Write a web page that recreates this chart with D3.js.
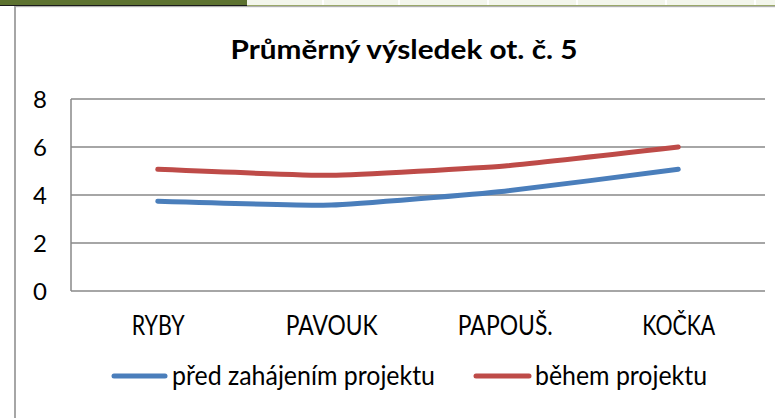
<!DOCTYPE html>
<html>
<head>
<meta charset="utf-8">
<script src="https://cdn.jsdelivr.net/npm/d3@7/dist/d3.min.js"></script>
<style>
  html, body { margin: 0; padding: 0; background: #fff; }
  svg { display: block; }
  text { font-family: Lato, "Open Sans", "Liberation Sans", sans-serif; fill: #000; }
</style>
</head>
<body>
<svg id="chart" width="775" height="418"></svg>
<script>
// Chart data
const categories = ["RYBY", "PAVOUK", "PAPOUŠ.", "KOČKA"];
const beforeProject = [3.74, 3.58, 4.16, 5.07];
const duringProject = [5.07, 4.82, 5.21, 6.0];
const seriesNames = ["před zahájením projektu", "během projektu"];
const yTicks = [0, 2, 4, 6, 8];
const chartTitle = "Průměrný výsledek ot. č. 5";

const colors = ["#4a7ebb", "#be4b48"];

const svg = d3.select("#chart");

// Worksheet strip along the top edge
svg.append("rect").attr("x", 0).attr("y", 0).attr("width", 775).attr("height", 5).attr("fill", "#f3f6ec");
[322, 398, 487, 576, 665, 754].forEach(x => {
  svg.append("rect").attr("x", x).attr("y", 0).attr("width", 2).attr("height", 5).attr("fill", "#ffffff");
});
svg.append("rect").attr("x", 0).attr("y", 0).attr("width", 247).attr("height", 5).attr("fill", "#5d7230");
svg.append("rect").attr("x", 0).attr("y", 5).attr("width", 247).attr("height", 1).attr("fill", "#1a1a1a");
svg.append("rect").attr("x", 247).attr("y", 5).attr("width", 528).attr("height", 1).attr("fill", "#9aa86a");
svg.append("rect").attr("x", 14).attr("y", 6).attr("width", 761).attr("height", 1.2).attr("fill", "#b0b0b0");
// Chart frame (left edge)
svg.append("rect").attr("x", 14).attr("y", 6).attr("width", 2).attr("height", 412).attr("fill", "#a6a6a6");

// Plot area
const plot = { left: 71, right: 765, top: 99, bottom: 291 };

const x = d3.scalePoint()
  .domain(categories)
  .range([plot.left, plot.right])
  .padding(0.5);

const y = d3.scaleLinear()
  .domain([0, 8])
  .range([plot.bottom, plot.top]);

// Horizontal gridlines
svg.append("g")
  .selectAll("line")
  .data(yTicks)
  .join("line")
  .attr("x1", plot.left)
  .attr("x2", plot.right)
  .attr("y1", d => y(d))
  .attr("y2", d => y(d))
  .attr("stroke", "#898989")
  .attr("stroke-width", 1.5);

// Value axis line
svg.append("line")
  .attr("x1", plot.left).attr("x2", plot.left)
  .attr("y1", y(8)).attr("y2", y(0))
  .attr("stroke", "#898989").attr("stroke-width", 1.5);

// Y tick labels
const yAxis = d3.axisLeft(y).tickValues(yTicks).tickSize(0).tickPadding(25);
const yg = svg.append("g").attr("transform", `translate(${plot.left},0)`).call(yAxis);
yg.select(".domain").remove();
yg.selectAll("text")
  .attr("font-size", 24)
  .attr("font-family", "Lato, 'Open Sans', sans-serif")
  .attr("fill", "#000")
  .attr("x", -24)
  .attr("dy", "0.36em");

// Category labels
const catWidths = { "RYBY": 53, "PAVOUK": 92, "PAPOUŠ.": 95, "KOČKA": 73 };
const xAxis = d3.axisBottom(x).tickSize(0).tickPadding(0);
const xg = svg.append("g").attr("transform", `translate(0,${plot.bottom})`).call(xAxis);
xg.select(".domain").remove();
xg.selectAll("text")
  .attr("y", 44)
  .attr("dy", null)
  .attr("font-size", 27)
  .attr("font-family", "Lato, 'Open Sans', sans-serif")
  .attr("fill", "#000")
  .attr("textLength", d => catWidths[d])
  .attr("lengthAdjust", "spacingAndGlyphs");

// Series lines
const line = d3.line()
  .x((d, i) => x(categories[i]))
  .y(d => y(d))
  .curve(d3.curveCardinal.tension(0.6));

[beforeProject, duringProject].forEach((values, k) => {
  svg.append("path")
    .datum(values)
    .attr("d", line)
    .attr("fill", "none")
    .attr("stroke", colors[k])
    .attr("stroke-width", 5)
    .attr("stroke-linecap", "round")
    .attr("stroke-linejoin", "round");
});

// Title
svg.append("text")
  .attr("x", 404)
  .attr("y", 59)
  .attr("text-anchor", "middle")
  .attr("font-size", 27)
  .attr("font-weight", "bold")
  .attr("textLength", 347)
  .attr("lengthAdjust", "spacingAndGlyphs")
  .text(chartTitle);

// Legend
const legendItems = [
  { name: seriesNames[0], color: colors[0], x1: 114, x2: 165, tx: 172, tw: 263 },
  { name: seriesNames[1], color: colors[1], x1: 476, x2: 529, tx: 535, tw: 172 }
];
const lg = svg.append("g");
legendItems.forEach(it => {
  lg.append("line")
    .attr("x1", it.x1).attr("x2", it.x2)
    .attr("y1", 376).attr("y2", 376)
    .attr("stroke", it.color)
    .attr("stroke-width", 5)
    .attr("stroke-linecap", "round");
  lg.append("text")
    .attr("x", it.tx)
    .attr("y", 385)
    .attr("font-size", 26)
    .attr("textLength", it.tw)
    .attr("lengthAdjust", "spacingAndGlyphs")
    .text(it.name);
});
</script>
</body>
</html>
